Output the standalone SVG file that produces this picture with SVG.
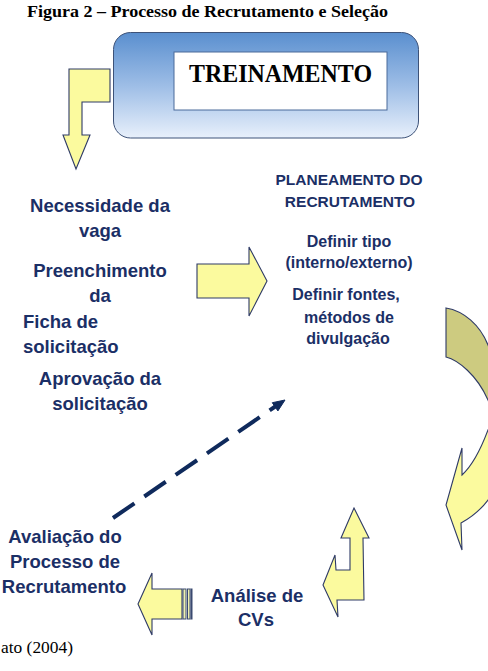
<svg xmlns="http://www.w3.org/2000/svg" width="488" height="671" viewBox="0 0 488 671">
<defs>
<linearGradient id="blueGrad" x1="0" y1="0" x2="0" y2="1">
<stop offset="0" stop-color="#5a8fcf"/>
<stop offset="0.5" stop-color="#9dbde6"/>
<stop offset="1" stop-color="#e8f0fb"/>
</linearGradient>
<style>
.lbl{font-family:"Liberation Sans",Arial,sans-serif;font-weight:bold;fill:#1b2f66;text-anchor:middle}
.big{font-size:18.5px}
.sm{font-size:16px}
.yel{fill:#fbfa9e;stroke:#2e3a66;stroke-width:1.1;stroke-linejoin:miter}
.serif{font-family:"Liberation Serif","Times New Roman",serif;fill:#000}
</style>
</defs>
<rect width="488" height="671" fill="#ffffff"/>
<text class="serif" x="27" y="17" font-size="16.5" font-weight="bold" textLength="361" lengthAdjust="spacingAndGlyphs">Figura 2 – Processo de Recrutamento e Seleção</text>

<g id="treinamento">
<rect x="113.5" y="32.5" width="305" height="105.5" rx="17" ry="17" fill="url(#blueGrad)" stroke="#3d5278" stroke-width="1"/>
<rect x="174" y="52" width="213" height="58" fill="#ffffff" stroke="#4a6a9a" stroke-width="1"/>
<text class="serif" x="280.5" y="82" font-size="25" font-weight="bold" text-anchor="middle" textLength="183" lengthAdjust="spacingAndGlyphs">TREINAMENTO</text>
</g>

<g id="connectors">
<polygon class="yel" points="69,69 110,69 110,102 82,102 82,135 90,135 76,169 63,135 69,135"/>
<polygon class="yel" points="197,264 249,264 249,247 267,281 249,316 249,298 197,298"/>
<path d="M446,308 C464,311 480,325 488,345 L496,365 L496,420 L488,400 C477,375 458,360 446,357 Z" fill="#cdcb80" stroke="#2e3a66" stroke-width="1.1"/>
<path class="yel" d="M496,415 L488,430 C482,446 472,466 462,475 L462,448 L446,505 L462,550 L461,523 C472,517 482,508 488,500 L496,490 Z"/>
<polygon class="yel" points="354,508 369,538 363,538 364,600 337,600 338,617 323,585 335,555 336,570 350,570 350,538 341,538"/>
<g id="leftArrow">
<polygon class="yel" points="138,604 152,573 152,589 182,589 182,619 152,619 152,635"/>
<rect x="183" y="589" width="3" height="30" fill="#eef0b0" stroke="#3a4a70" stroke-width="1"/>
<rect x="187.5" y="589" width="2.5" height="30" fill="#eef0b0" stroke="#3a4a70" stroke-width="1"/>
<rect x="191" y="589" width="1" height="30" fill="#3a4a70" stroke="#3a4a70" stroke-width="1"/>
</g>
<g id="dashed">
<line x1="113" y1="518" x2="276" y2="406" stroke="#0f2a5c" stroke-width="4" stroke-dasharray="26 12"/>
<polygon points="285,400 277.9,410.9 272.3,402.7" fill="#0f2a5c" stroke="#0f2a5c" stroke-width="1"/>
</g>
</g>

<g id="necessidade">
<text class="lbl big" x="100" y="212">Necessidade da</text>
<text class="lbl big" x="100" y="237">vaga</text>
</g>
<g id="preenchimento">
<text class="lbl big" x="100" y="277">Preenchimento</text>
<text class="lbl big" x="100" y="302">da</text>
<text class="lbl big" x="23" y="328" style="text-anchor:start">Ficha de</text>
<text class="lbl big" x="23" y="353" style="text-anchor:start">solicitação</text>
</g>
<g id="aprovacao">
<text class="lbl big" x="100" y="385">Aprovação da</text>
<text class="lbl big" x="100" y="410">solicitação</text>
</g>
<g id="planeamento">
<text class="lbl" x="349" y="185" font-size="15.5">PLANEAMENTO DO</text>
<text class="lbl" x="350" y="207" font-size="15.5">RECRUTAMENTO</text>
<text class="lbl sm" x="349" y="247">Definir tipo</text>
<text class="lbl sm" x="349" y="268">(interno/externo)</text>
<text class="lbl sm" x="346" y="300">Definir fontes,</text>
<text class="lbl sm" x="349" y="323">métodos de</text>
<text class="lbl sm" x="348" y="344">divulgação</text>
</g>
<g id="avaliacao">
<text class="lbl big" x="65" y="543">Avaliação do</text>
<text class="lbl big" x="65" y="568">Processo de</text>
<text class="lbl big" x="64" y="593">Recrutamento</text>
</g>
<g id="analise">
<text class="lbl big" x="257" y="602">Análise de</text>
<text class="lbl big" x="256" y="626">CVs</text>
</g>
<text class="serif" x="1" y="653" font-size="16.5" textLength="72" lengthAdjust="spacingAndGlyphs">ato (2004)</text>
</svg>
